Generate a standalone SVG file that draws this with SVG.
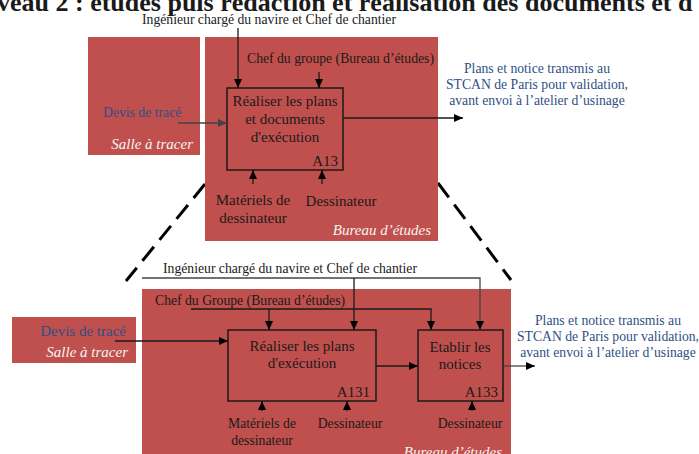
<svg xmlns="http://www.w3.org/2000/svg" width="699" height="454" viewBox="0 0 699 454">
<style>
text{font-family:"Liberation Serif","Times New Roman",serif;fill:#1a1a1a}
.lbl{font-size:13.7px}
.big{font-size:15px}
.blue{fill:#2f4f85}
.it{font-style:italic;fill:#f4f4f4;font-size:15px}
.zone{fill:#c0504d}
.box{fill:none;stroke:#1a1a1a;stroke-width:1.5}
.ln{fill:none;stroke:#1a1a1a;stroke-width:1.3}
.gl{fill:none;stroke:#444;stroke-width:1.3}
.dash{fill:none;stroke:#000;stroke-width:3;stroke-dasharray:18 9}
</style>
<defs>
<marker id="ah" markerWidth="9" markerHeight="8" refX="9" refY="4" orient="auto" markerUnits="userSpaceOnUse">
<path d="M0,0 L9,4 L0,8 z" fill="#000"/>
</marker>
<marker id="ahg" markerWidth="9" markerHeight="8" refX="9" refY="4" orient="auto" markerUnits="userSpaceOnUse">
<path d="M0,0 L9,4 L0,8 z" fill="#444"/>
</marker>
</defs>

<g id="title">
<text x="-3" y="11" style="font-size:26px;font-weight:bold" fill="#000">veau 2 : études puis rédaction et réalisation des documents et d</text>
</g>

<g id="zoom-lines">
<line class="dash" x1="205" y1="184" x2="126" y2="281"/>
<line class="dash" x1="438" y1="183" x2="511" y2="280"/>
</g>

<g id="salle1">
<rect class="zone" x="88" y="37" width="112" height="118"/>
<text class="lbl blue" x="103" y="117">Devis de tracé</text>
<text class="it" x="193" y="149" text-anchor="end">Salle à tracer</text>
</g>

<g id="bureau1">
<rect class="zone" x="205" y="37" width="233" height="204"/>
<text class="it" x="431" y="235" text-anchor="end">Bureau d’études</text>
</g>

<g id="A13">
<rect class="box" x="227" y="88" width="116" height="82"/>
<text class="big" x="285" y="106" text-anchor="middle">Réaliser les plans</text>
<text class="big" x="285" y="124" text-anchor="middle">et documents</text>
<text class="big" x="285" y="142" text-anchor="middle">d'exécution</text>
<text class="big" x="338" y="166" text-anchor="end">A13</text>
</g>

<g id="labels-top">
<text class="lbl" x="269" y="24" text-anchor="middle">Ingénieur chargé du navire et Chef de chantier</text>
<text class="lbl" x="247" y="63">Chef du groupe (Bureau d’études)</text>
<text class="big" x="253" y="205" text-anchor="middle">Matériels de</text>
<text class="big" x="253" y="223" text-anchor="middle">dessinateur</text>
<text class="big" x="341" y="206" text-anchor="middle">Dessinateur</text>
<text class="lbl blue" x="537" y="73" text-anchor="middle">Plans et notice transmis au</text>
<text class="lbl blue" x="537" y="89" text-anchor="middle">STCAN de Paris pour validation,</text>
<text class="lbl blue" x="537" y="105" text-anchor="middle">avant envoi à l’atelier d’usinage</text>
</g>

<g id="salle2">
<rect class="zone" x="12" y="317" width="124" height="46"/>
<text class="big blue" x="126" y="336" text-anchor="end">Devis de tracé</text>
<text class="it" x="128" y="357" text-anchor="end">Salle à tracer</text>
</g>

<g id="bureau2">
<rect class="zone" x="142" y="289" width="369" height="170"/>
<text class="it" x="502" y="457" text-anchor="end">Bureau d’études</text>
</g>

<g id="A131">
<rect class="box" x="228" y="330" width="148" height="71"/>
<text class="big" x="302" y="351" text-anchor="middle">Réaliser les plans</text>
<text class="big" x="302" y="368" text-anchor="middle">d'exécution</text>
<text class="big" x="370" y="397" text-anchor="end">A131</text>
</g>

<g id="A133">
<rect class="box" x="418" y="330" width="85" height="71"/>
<text class="big" x="460" y="352" text-anchor="middle">Etablir les</text>
<text class="big" x="460" y="369" text-anchor="middle">notices</text>
<text class="big" x="498" y="397" text-anchor="end">A133</text>
</g>

<g id="labels-bottom">
<text class="lbl" x="163" y="273">Ingénieur chargé du navire et Chef de chantier</text>
<text class="lbl" x="155" y="305">Chef du Groupe (Bureau d’études)</text>
<text class="lbl" x="262" y="428" text-anchor="middle">Matériels de</text>
<text class="lbl" x="262" y="445" text-anchor="middle">dessinateur</text>
<text class="lbl" x="350" y="428" text-anchor="middle">Dessinateur</text>
<text class="lbl" x="470" y="428" text-anchor="middle">Dessinateur</text>
<text class="lbl blue" x="608" y="325" text-anchor="middle">Plans et notice transmis au</text>
<text class="lbl blue" x="608" y="341" text-anchor="middle">STCAN de Paris pour validation,</text>
<text class="lbl blue" x="608" y="357" text-anchor="middle">avant envoi à l’atelier d’usinage</text>
</g>

<g id="connectors">
<line class="ln" x1="238" y1="28" x2="238" y2="88" marker-end="url(#ah)"/>
<line class="ln" x1="319" y1="72" x2="319" y2="88" marker-end="url(#ah)"/>
<line class="gl" x1="178" y1="123" x2="227" y2="123" marker-end="url(#ahg)"/>
<line class="ln" x1="343" y1="118" x2="463" y2="118" stroke="#333" marker-end="url(#ah)"/>
<line class="ln" x1="253" y1="184" x2="253" y2="170" marker-end="url(#ah)"/>
<line class="ln" x1="322" y1="184" x2="322" y2="170" marker-end="url(#ah)"/>

<path class="gl" d="M142,278 H480 V330" marker-end="url(#ah)"/>
<line class="ln" x1="354" y1="278" x2="354" y2="330" marker-end="url(#ah)"/>
<path class="ln" d="M191,309 H431 V330" marker-end="url(#ah)"/>
<line class="ln" x1="269" y1="309" x2="269" y2="330" marker-end="url(#ah)"/>
<line class="ln" x1="115" y1="341" x2="228" y2="341" marker-end="url(#ah)"/>
<line class="ln" x1="376" y1="366" x2="418" y2="366" marker-end="url(#ah)"/>
<line class="gl" x1="503" y1="366" x2="535" y2="366" marker-end="url(#ah)"/>
<line class="ln" x1="262" y1="411" x2="262" y2="401" marker-end="url(#ah)"/>
<line class="ln" x1="347" y1="411" x2="347" y2="401" marker-end="url(#ah)"/>
<line class="ln" x1="472" y1="411" x2="472" y2="401" marker-end="url(#ah)"/>
</g>
</svg>
